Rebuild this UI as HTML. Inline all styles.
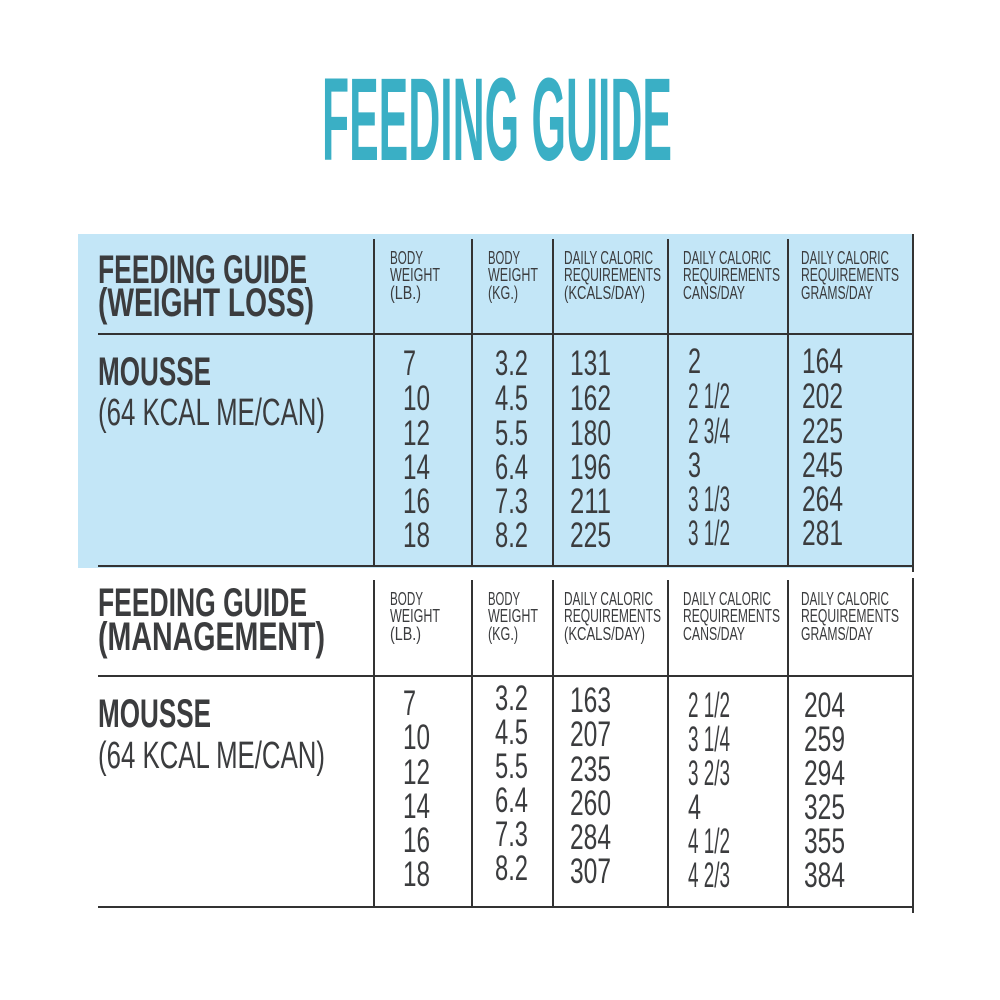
<!DOCTYPE html>
<html><head><style>
html,body{margin:0;padding:0;background:#fff;}
svg{display:block;font-family:"Liberation Sans",sans-serif;}
.t{fill:#3aafc5;font-weight:bold;font-size:118px;}
.h{fill:#3b3c3e;font-weight:bold;font-size:40px;}
.r{fill:#3b3c3e;font-size:38px;}
.s{fill:#3b3c3e;font-size:18px;}
.n{fill:#3b3c3e;font-size:35px;}
line{stroke:#333;stroke-width:2;}
</style></head><body>
<svg width="1000" height="1000" viewBox="0 0 1000 1000" xmlns="http://www.w3.org/2000/svg">
<rect width="1000" height="1000" fill="#fff"/>
<text class="t" x="322" y="160" textLength="350" lengthAdjust="spacingAndGlyphs">FEEDING GUIDE</text>
<rect x="78" y="234" width="835" height="334" fill="#c3e6f7"/>
<!-- table 1 lines -->
<line x1="98" y1="334" x2="913" y2="334"/>
<line x1="98" y1="566" x2="913" y2="566"/>
<line x1="374" y1="239" x2="374" y2="566"/>
<line x1="472" y1="239" x2="472" y2="566"/>
<line x1="553" y1="239" x2="553" y2="566"/>
<line x1="668" y1="239" x2="668" y2="566"/>
<line x1="788" y1="239" x2="788" y2="566"/>
<line x1="913" y1="234" x2="913" y2="572"/>
<!-- table 2 lines -->
<line x1="98" y1="676" x2="913" y2="676"/>
<line x1="98" y1="907" x2="913" y2="907"/>
<line x1="374" y1="580" x2="374" y2="907"/>
<line x1="472" y1="580" x2="472" y2="907"/>
<line x1="553" y1="580" x2="553" y2="907"/>
<line x1="668" y1="580" x2="668" y2="907"/>
<line x1="788" y1="580" x2="788" y2="907"/>
<line x1="913" y1="578" x2="913" y2="913"/>

<!-- table 1 text -->
<text class="h" x="98" y="283" textLength="209" lengthAdjust="spacingAndGlyphs">FEEDING GUIDE</text>
<text class="h" x="98" y="316" textLength="216" lengthAdjust="spacingAndGlyphs">(WEIGHT LOSS)</text>
<text class="h" x="98" y="385" textLength="113" lengthAdjust="spacingAndGlyphs">MOUSSE</text>
<text class="r" x="98" y="425" textLength="227" lengthAdjust="spacingAndGlyphs">(64 KCAL ME/CAN)</text>
<g class="s">
<text x="390" y="264" textLength="33" lengthAdjust="spacingAndGlyphs">BODY</text>
<text x="390" y="281" textLength="50" lengthAdjust="spacingAndGlyphs">WEIGHT</text>
<text x="390" y="299" textLength="31" lengthAdjust="spacingAndGlyphs">(LB.)</text>
<text x="488" y="264" textLength="32" lengthAdjust="spacingAndGlyphs">BODY</text>
<text x="488" y="281" textLength="50" lengthAdjust="spacingAndGlyphs">WEIGHT</text>
<text x="488" y="299" textLength="30" lengthAdjust="spacingAndGlyphs">(KG.)</text>
<text x="564" y="264" textLength="89" lengthAdjust="spacingAndGlyphs">DAILY CALORIC</text>
<text x="564" y="281" textLength="97" lengthAdjust="spacingAndGlyphs">REQUIREMENTS</text>
<text x="564" y="299" textLength="81" lengthAdjust="spacingAndGlyphs">(KCALS/DAY)</text>
<text x="683" y="264" textLength="88" lengthAdjust="spacingAndGlyphs">DAILY CALORIC</text>
<text x="683" y="281" textLength="97" lengthAdjust="spacingAndGlyphs">REQUIREMENTS</text>
<text x="683" y="299" textLength="62" lengthAdjust="spacingAndGlyphs">CANS/DAY</text>
<text x="801" y="264" textLength="88" lengthAdjust="spacingAndGlyphs">DAILY CALORIC</text>
<text x="801" y="281" textLength="98" lengthAdjust="spacingAndGlyphs">REQUIREMENTS</text>
<text x="801" y="299" textLength="72" lengthAdjust="spacingAndGlyphs">GRAMS/DAY</text>
</g>
<g class="n">
<text x="403" y="375" textLength="13" lengthAdjust="spacingAndGlyphs">7</text>
<text x="403" y="410" textLength="27" lengthAdjust="spacingAndGlyphs">10</text>
<text x="403" y="445" textLength="27" lengthAdjust="spacingAndGlyphs">12</text>
<text x="403" y="479" textLength="27" lengthAdjust="spacingAndGlyphs">14</text>
<text x="403" y="513" textLength="27" lengthAdjust="spacingAndGlyphs">16</text>
<text x="403" y="547" textLength="27" lengthAdjust="spacingAndGlyphs">18</text>
<text x="495" y="375" textLength="33" lengthAdjust="spacingAndGlyphs">3.2</text>
<text x="495" y="410" textLength="33" lengthAdjust="spacingAndGlyphs">4.5</text>
<text x="495" y="445" textLength="33" lengthAdjust="spacingAndGlyphs">5.5</text>
<text x="495" y="479" textLength="33" lengthAdjust="spacingAndGlyphs">6.4</text>
<text x="495" y="513" textLength="33" lengthAdjust="spacingAndGlyphs">7.3</text>
<text x="495" y="547" textLength="33" lengthAdjust="spacingAndGlyphs">8.2</text>
<text x="570" y="375" textLength="41" lengthAdjust="spacingAndGlyphs">131</text>
<text x="570" y="410" textLength="41" lengthAdjust="spacingAndGlyphs">162</text>
<text x="570" y="445" textLength="41" lengthAdjust="spacingAndGlyphs">180</text>
<text x="570" y="479" textLength="41" lengthAdjust="spacingAndGlyphs">196</text>
<text x="570" y="513" textLength="41" lengthAdjust="spacingAndGlyphs">211</text>
<text x="570" y="547" textLength="41" lengthAdjust="spacingAndGlyphs">225</text>
<text x="688" y="373" textLength="13" lengthAdjust="spacingAndGlyphs">2</text>
<text x="688" y="408" textLength="42" lengthAdjust="spacingAndGlyphs">2 1/2</text>
<text x="688" y="443" textLength="42" lengthAdjust="spacingAndGlyphs">2 3/4</text>
<text x="688" y="477" textLength="13" lengthAdjust="spacingAndGlyphs">3</text>
<text x="688" y="511" textLength="42" lengthAdjust="spacingAndGlyphs">3 1/3</text>
<text x="688" y="545" textLength="42" lengthAdjust="spacingAndGlyphs">3 1/2</text>
<text x="802" y="373" textLength="41" lengthAdjust="spacingAndGlyphs">164</text>
<text x="802" y="408" textLength="41" lengthAdjust="spacingAndGlyphs">202</text>
<text x="802" y="443" textLength="41" lengthAdjust="spacingAndGlyphs">225</text>
<text x="802" y="477" textLength="41" lengthAdjust="spacingAndGlyphs">245</text>
<text x="802" y="511" textLength="41" lengthAdjust="spacingAndGlyphs">264</text>
<text x="802" y="545" textLength="41" lengthAdjust="spacingAndGlyphs">281</text>
</g>

<!-- table 2 text -->
<text class="h" x="98" y="616" textLength="209" lengthAdjust="spacingAndGlyphs">FEEDING GUIDE</text>
<text class="h" x="98" y="650" textLength="227" lengthAdjust="spacingAndGlyphs">(MANAGEMENT)</text>
<text class="h" x="98" y="727" textLength="113" lengthAdjust="spacingAndGlyphs">MOUSSE</text>
<text class="r" x="98" y="768" textLength="227" lengthAdjust="spacingAndGlyphs">(64 KCAL ME/CAN)</text>
<g class="s">
<text x="390" y="605" textLength="33" lengthAdjust="spacingAndGlyphs">BODY</text>
<text x="390" y="622" textLength="50" lengthAdjust="spacingAndGlyphs">WEIGHT</text>
<text x="390" y="640" textLength="31" lengthAdjust="spacingAndGlyphs">(LB.)</text>
<text x="488" y="605" textLength="32" lengthAdjust="spacingAndGlyphs">BODY</text>
<text x="488" y="622" textLength="50" lengthAdjust="spacingAndGlyphs">WEIGHT</text>
<text x="488" y="640" textLength="30" lengthAdjust="spacingAndGlyphs">(KG.)</text>
<text x="564" y="605" textLength="89" lengthAdjust="spacingAndGlyphs">DAILY CALORIC</text>
<text x="564" y="622" textLength="97" lengthAdjust="spacingAndGlyphs">REQUIREMENTS</text>
<text x="564" y="640" textLength="81" lengthAdjust="spacingAndGlyphs">(KCALS/DAY)</text>
<text x="683" y="605" textLength="88" lengthAdjust="spacingAndGlyphs">DAILY CALORIC</text>
<text x="683" y="622" textLength="97" lengthAdjust="spacingAndGlyphs">REQUIREMENTS</text>
<text x="683" y="640" textLength="62" lengthAdjust="spacingAndGlyphs">CANS/DAY</text>
<text x="801" y="605" textLength="88" lengthAdjust="spacingAndGlyphs">DAILY CALORIC</text>
<text x="801" y="622" textLength="98" lengthAdjust="spacingAndGlyphs">REQUIREMENTS</text>
<text x="801" y="640" textLength="72" lengthAdjust="spacingAndGlyphs">GRAMS/DAY</text>
</g>
<g class="n">
<text x="403" y="715" textLength="13" lengthAdjust="spacingAndGlyphs">7</text>
<text x="403" y="749" textLength="27" lengthAdjust="spacingAndGlyphs">10</text>
<text x="403" y="784" textLength="27" lengthAdjust="spacingAndGlyphs">12</text>
<text x="403" y="818" textLength="27" lengthAdjust="spacingAndGlyphs">14</text>
<text x="403" y="852" textLength="27" lengthAdjust="spacingAndGlyphs">16</text>
<text x="403" y="886" textLength="27" lengthAdjust="spacingAndGlyphs">18</text>
<text x="495" y="710" textLength="33" lengthAdjust="spacingAndGlyphs">3.2</text>
<text x="495" y="744" textLength="33" lengthAdjust="spacingAndGlyphs">4.5</text>
<text x="495" y="778" textLength="33" lengthAdjust="spacingAndGlyphs">5.5</text>
<text x="495" y="812" textLength="33" lengthAdjust="spacingAndGlyphs">6.4</text>
<text x="495" y="846" textLength="33" lengthAdjust="spacingAndGlyphs">7.3</text>
<text x="495" y="880" textLength="33" lengthAdjust="spacingAndGlyphs">8.2</text>
<text x="570" y="712" textLength="41" lengthAdjust="spacingAndGlyphs">163</text>
<text x="570" y="746" textLength="41" lengthAdjust="spacingAndGlyphs">207</text>
<text x="570" y="781" textLength="41" lengthAdjust="spacingAndGlyphs">235</text>
<text x="570" y="815" textLength="41" lengthAdjust="spacingAndGlyphs">260</text>
<text x="570" y="849" textLength="41" lengthAdjust="spacingAndGlyphs">284</text>
<text x="570" y="883" textLength="41" lengthAdjust="spacingAndGlyphs">307</text>
<text x="688" y="717" textLength="42" lengthAdjust="spacingAndGlyphs">2 1/2</text>
<text x="688" y="751" textLength="42" lengthAdjust="spacingAndGlyphs">3 1/4</text>
<text x="688" y="785" textLength="42" lengthAdjust="spacingAndGlyphs">3 2/3</text>
<text x="688" y="819" textLength="13" lengthAdjust="spacingAndGlyphs">4</text>
<text x="688" y="853" textLength="42" lengthAdjust="spacingAndGlyphs">4 1/2</text>
<text x="688" y="887" textLength="42" lengthAdjust="spacingAndGlyphs">4 2/3</text>
<text x="804" y="717" textLength="41" lengthAdjust="spacingAndGlyphs">204</text>
<text x="804" y="751" textLength="41" lengthAdjust="spacingAndGlyphs">259</text>
<text x="804" y="785" textLength="41" lengthAdjust="spacingAndGlyphs">294</text>
<text x="804" y="819" textLength="41" lengthAdjust="spacingAndGlyphs">325</text>
<text x="804" y="853" textLength="41" lengthAdjust="spacingAndGlyphs">355</text>
<text x="804" y="887" textLength="41" lengthAdjust="spacingAndGlyphs">384</text>
</g>
</svg>
</body></html>
